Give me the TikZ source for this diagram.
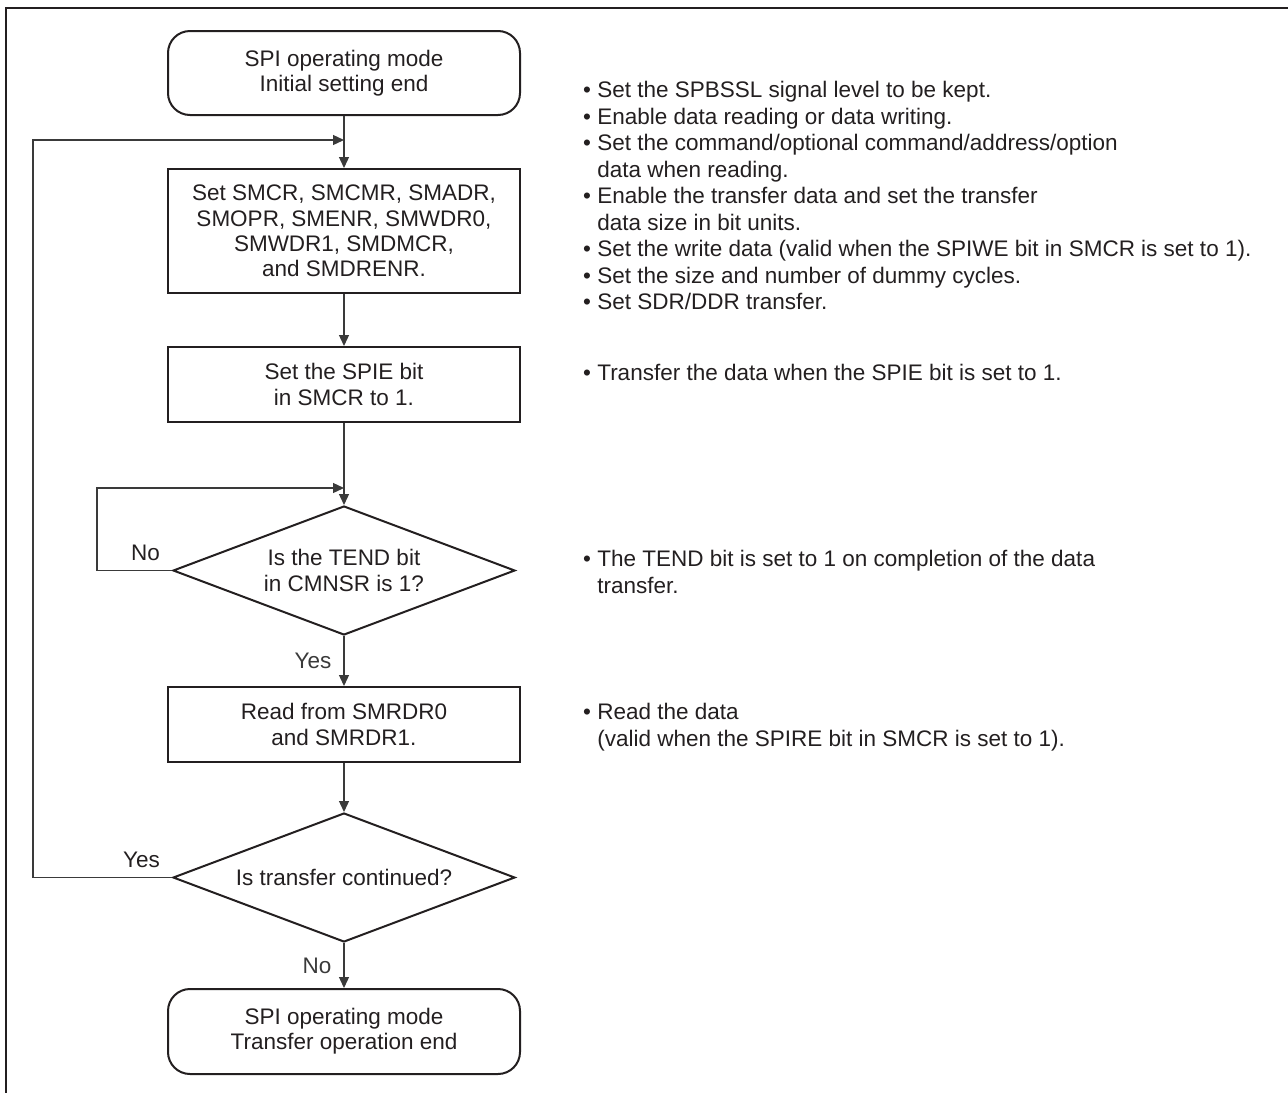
\documentclass[tikz,border=0pt]{standalone}
\usepackage{fontspec}
\setmainfont{Liberation Sans}
\usetikzlibrary{arrows.meta,positioning,shapes.geometric}
\definecolor{ink}{HTML}{231F20}
\definecolor{wire}{HTML}{3A3A3A}
\newcommand{\notebul}{\textbullet\ }
\newcommand{\noteind}{\phantom{\textbullet}\ }

\begin{document}
\begin{tikzpicture}[x=1pt,y=-1pt,>={Triangle[length=11pt,width=10pt]},
font=\fontsize{22.5}{25.3}\selectfont,text=ink,
term/.style={draw=ink,line width=2pt,rounded corners=22pt,align=center,minimum width=352pt,minimum height=84pt,inner sep=0pt},
proc/.style={draw=ink,line width=2pt,align=center,minimum width=352pt,inner sep=0pt},
dec/.style={draw=ink,line width=2pt,diamond,aspect=2.6,align=center,minimum width=342pt,minimum height=129pt,inner sep=0pt},
f/.style={->,line width=1.3pt,wire},
note/.style={anchor=north west,align=left,inner sep=0pt,font=\fontsize{22.5}{26.5}\selectfont},
lbl/.style={inner sep=0pt}]
\useasboundingbox (0,0) rectangle (1288,1093);
\draw[line width=2.2pt,ink] (1288,8) -- (6,8) -- (6,1093);
% flow
\node[term] (start) at (344,73) {SPI operating mode\\Initial setting end};
\node[proc,minimum height=124pt,below=52pt of start] (setregs) {Set SMCR, SMCMR, SMADR,\\SMOPR, SMENR, SMWDR0,\\SMWDR1, SMDMCR,\\and SMDRENR.};
\node[proc,minimum height=75pt,below=52pt of setregs] (spie) {Set the SPIE bit\\in SMCR to 1.};
\node[dec,below=82pt of spie] (tend) {Is the TEND bit\\in CMNSR is 1?};
\node[proc,minimum height=75pt,below=50pt of tend] (rdata) {Read from SMRDR0\\and SMRDR1.};
\node[dec,below=49pt of rdata] (cont) {Is transfer continued?};
\node[term,minimum height=85pt,below=45pt of cont] (fin) {SPI operating mode\\Transfer operation end};
% notes
\node[note] (noteset) at (583,81) {\notebul Set the SPBSSL signal level to be kept.\\
\notebul Enable data reading or data writing.\\
\notebul Set the command/optional command/address/option\\
\noteind data when reading.\\
\notebul Enable the transfer data and set the transfer\\
\noteind data size in bit units.\\
\notebul Set the write data (valid when the SPIWE bit in SMCR is set to 1).\\
\notebul Set the size and number of dummy cycles.\\
\notebul Set SDR/DDR transfer.};
\node[note] (notespie) at (583,364) {\notebul Transfer the data when the SPIE bit is set to 1.};
\node[note] (notetend) at (583,550) {\notebul The TEND bit is set to 1 on completion of the data\\
\noteind transfer.};
\node[note] (noterd) at (583,703) {\notebul Read the data\\
\noteind (valid when the SPIRE bit in SMCR is set to 1).};
% connectors
\coordinate[below=24pt of start] (jtop);
\coordinate[above=17pt of tend.north] (jtend);
\coordinate (outx) at (33,0);
\coordinate (inx) at (97,0);
\draw[f] (start) -- (setregs);
\draw[f] (setregs) -- (spie);
\draw[f] (spie) -- (tend);
\draw[f] (tend) -- node[lbl,left=12pt]{Yes} (rdata);
\draw[f] (rdata) -- (cont);
\draw[f] (cont) -- node[lbl,left=12pt]{No} (fin);
\draw[f] (tend.west) -- (tend.west -| inx) |- (jtend);
\draw[f] (cont.west) -- (cont.west -| outx) |- (jtop);
\node[lbl,above left=10pt and 12pt of tend.west] (tendno) {No};
\node[lbl,above left=10pt and 12pt of cont.west] (contyes) {Yes};
\end{tikzpicture}
\end{document}
